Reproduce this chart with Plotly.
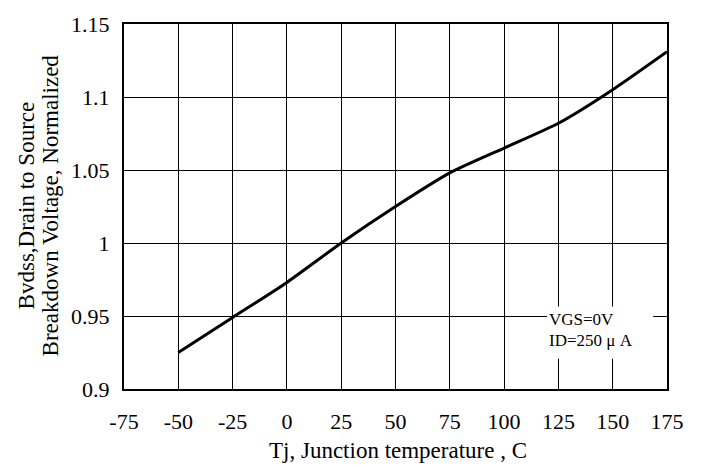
import plotly.graph_objects as go

temps = [-50, -25, 0, 25, 50, 75, 100, 125, 150, 175]
bvdss = [0.925, 0.949, 0.973, 1.000, 1.025, 1.048, 1.065, 1.082, 1.105, 1.131]

x_ticks = [-75, -50, -25, 0, 25, 50, 75, 100, 125, 150, 175]
y_ticks = [0.9, 0.95, 1.0, 1.05, 1.1, 1.15]
y_tick_text = ["0.9", "0.95", "1", "1.05", "1.1", "1.15"]

y_title_lines = ["Bvdss,Drain to Source", "Breakdown Voltage, Normalized"]

FONT = "Liberation Serif"

fig = go.Figure()
fig.add_trace(go.Scatter(x=temps, y=bvdss, mode="lines",
                         line=dict(color="black", width=3, shape="spline", smoothing=0.6),
                         showlegend=False, hoverinfo="skip"))

fig.add_shape(type="rect", xref="x", yref="y", x0=119.8, x1=168.6, y0=0.9208, y1=0.9565,
              fillcolor="white", line=dict(width=0), layer="between")

fig.add_annotation(xref="x", yref="y", x=119.8, y=0.9478, text="VGS=0V", showarrow=False,
                   xanchor="left", yanchor="middle", font=dict(family=FONT, size=17, color="black"))
fig.add_annotation(xref="x", yref="y", x=119.8, y=0.9330, text="ID=250 μ A", showarrow=False,
                   xanchor="left", yanchor="middle", font=dict(family=FONT, size=17, color="black"))

for xp, line in zip([-0.1805, -0.1363], y_title_lines):
    fig.add_annotation(xref="paper", yref="paper", x=xp, y=0.503, text=line,
                       textangle=-90, showarrow=False, xanchor="center", yanchor="middle",
                       font=dict(family=FONT, size=23, color="black"))

fig.add_annotation(xref="paper", yref="paper", x=0.505, y=-0.168,
                   text="Tj, Junction temperature , C", showarrow=False,
                   xanchor="center", yanchor="middle",
                   font=dict(family=FONT, size=23, color="black"))

fig.update_layout(
    width=701, height=470,
    margin=dict(l=124, r=34, t=17, b=81),
    paper_bgcolor="white", plot_bgcolor="white",
    font=dict(family=FONT, size=22, color="black"),
    xaxis=dict(range=[-75, 175], tickvals=x_ticks, ticktext=[str(v) for v in x_ticks],
               showgrid=True, gridcolor="black", gridwidth=1.2, zeroline=False,
               showline=True, linecolor="black", linewidth=2, mirror=True,
               ticks="", ticklabelstandoff=12),
    yaxis=dict(range=[0.9, 1.15], tickvals=y_ticks, ticktext=y_tick_text,
               showgrid=True, gridcolor="black", gridwidth=1.2, zeroline=False,
               showline=True, linecolor="black", linewidth=2, mirror=True,
               ticks="", ticklabelstandoff=8),
)

fig.write_html("out.html")
